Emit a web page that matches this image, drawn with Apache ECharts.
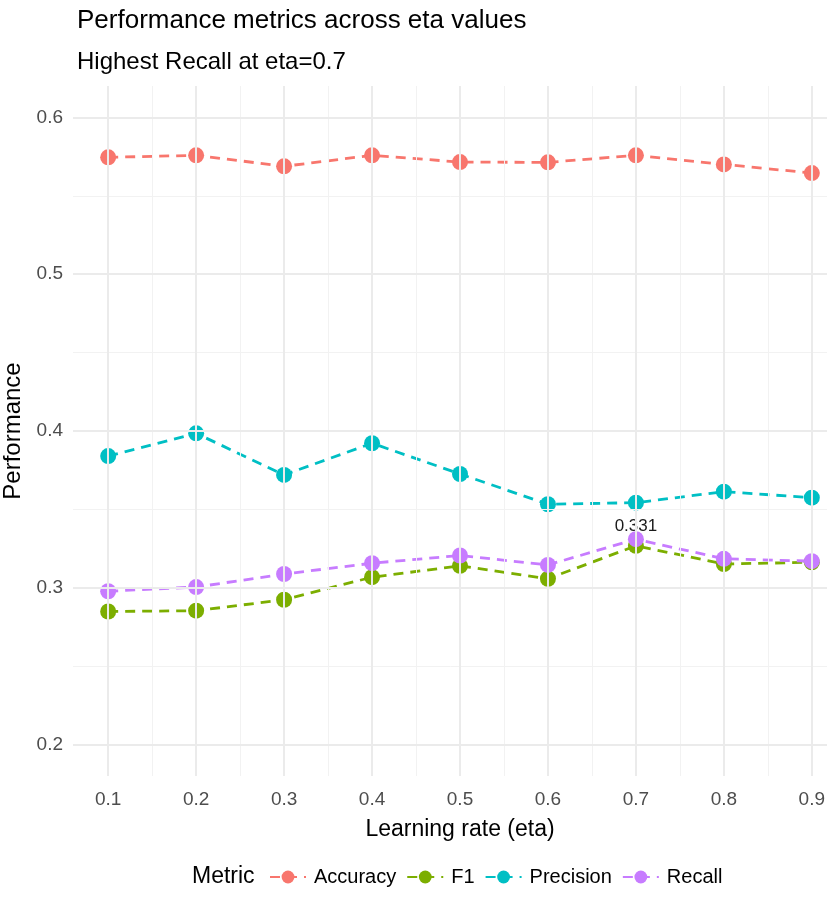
<!DOCTYPE html>
<html>
<head>
<meta charset="utf-8">
<script src="https://cdn.jsdelivr.net/npm/echarts@6/dist/echarts.min.js"></script>
<style>html,body{margin:0;padding:0;background:#fff}#c{width:827px;height:918px}</style>
</head>
<body>
<div id="c"></div>
<script>
const etas = [0.1, 0.2, 0.3, 0.4, 0.5, 0.6, 0.7, 0.8, 0.9];
const accuracy  = [0.5745, 0.5758, 0.5688, 0.5758, 0.5715, 0.5713, 0.5758, 0.5700, 0.5645];
const f1        = [0.2849, 0.2854, 0.2924, 0.3068, 0.3140, 0.3058, 0.3268, 0.3152, 0.3163];
const precision = [0.3840, 0.3985, 0.3720, 0.3922, 0.3726, 0.3533, 0.3543, 0.3613, 0.3575];
const recall    = [0.2978, 0.3005, 0.3088, 0.3157, 0.3206, 0.3146, 0.331, 0.3185, 0.3170];
const xMajor = [0.1, 0.2, 0.3, 0.4, 0.5, 0.6, 0.7, 0.8, 0.9];
const xMinor = [0.15, 0.25, 0.35, 0.45, 0.55, 0.65, 0.75, 0.85];
const yMajor = [0.2, 0.3, 0.4, 0.5, 0.6];
const yMinor = [0.25, 0.35, 0.45, 0.55];
const metricNames = ['Accuracy', 'F1', 'Precision', 'Recall'];
const metricColors = ['#F8766D', '#7CAE00', '#00BFC4', '#C77CFF'];
const metricValues = [accuracy, f1, precision, recall];
const highlightEta = 0.7;

const font = 'Liberation Sans, Arial, sans-serif';
const chart = echarts.init(document.getElementById('c'), null, {renderer: 'canvas'});

const series = metricNames.map((name, k) => {
  const data = etas.map((e, i) => {
    const item = {value: [e, metricValues[k][i]]};
    if (name === 'Recall' && e === highlightEta) {
      item.label = {show: true, position: 'top', distance: 0, offset: [0, 4],
        formatter: p => p.value[1].toFixed(3),
        color: '#1a1a1a', fontSize: 17, fontFamily: font};
    }
    return item;
  });
  return {
    name, type: 'line', data, z: 3,
    symbol: 'circle', symbolSize: 16,
    itemStyle: {color: metricColors[k]},
    lineStyle: {color: metricColors[k], width: 2.8, type: [10, 7]},
    emphasis: {disabled: true}
  };
});

const gl = (vals, axis, w, c) => vals.map(v => ({[axis]: v, lineStyle: {width: w, color: c, type: 'solid'}}));
series.unshift({
  name: '_grid', type: 'line', data: [], z: 1, silent: true,
  markLine: {
    silent: true, symbol: 'none', animation: false, label: {show: false},
    data: [].concat(
      gl(xMinor, 'xAxis', 1, '#F2F2F2'),
      gl(yMinor, 'yAxis', 1, '#F2F2F2'),
      gl(xMajor, 'xAxis', 2, '#EBEBEB'),
      gl(yMajor, 'yAxis', 2, '#EBEBEB')
    )
  }
});

chart.setOption({
  animation: false,
  backgroundColor: '#ffffff',
  title: [
    {text: 'Performance metrics across eta values', left: 72, top: 3,
     textStyle: {fontFamily: font, fontSize: 26, fontWeight: 'normal', color: '#000'}},
    {text: 'Highest Recall at eta=0.7', left: 72, top: 45,
     textStyle: {fontFamily: font, fontSize: 24, fontWeight: 'normal', color: '#000'}},
    {text: 'Metric', left: 187, top: 860,
     textStyle: {fontFamily: font, fontSize: 23, fontWeight: 'normal', color: '#000'}}
  ],
  legend: {
    data: metricNames, left: 264, top: 862, itemWidth: 36, itemHeight: 16, itemGap: 10,
    textStyle: {fontFamily: font, fontSize: 20, color: '#000', padding: [0, 0, 0, 3]}, selectedMode: false
  },
  grid: {left: 73, top: 86, width: 774, height: 690, containLabel: false, outerBoundsMode: 'none'},
  xAxis: {
    type: 'value', min: 0.06, max: 0.94,
    name: 'Learning rate (eta)', nameLocation: 'middle', nameGap: 42,
    nameTextStyle: {fontFamily: font, fontSize: 23, color: '#000'},
    axisLine: {show: false}, axisTick: {show: false}, splitLine: {show: false},
    axisLabel: {customValues: xMajor, formatter: v => v.toFixed(1), margin: 14,
      fontFamily: font, fontSize: 19, color: '#4D4D4D'}
  },
  yAxis: {
    type: 'value', min: 0.18, max: 0.62,
    name: 'Performance', nameLocation: 'middle', nameGap: 41,
    nameTextStyle: {fontFamily: font, fontSize: 24, color: '#000'},
    axisLine: {show: false}, axisTick: {show: false}, splitLine: {show: false},
    axisLabel: {customValues: yMajor, formatter: v => v.toFixed(1), margin: 10,
      fontFamily: font, fontSize: 19, color: '#4D4D4D'}
  },
  series
});
</script>
</body>
</html>
